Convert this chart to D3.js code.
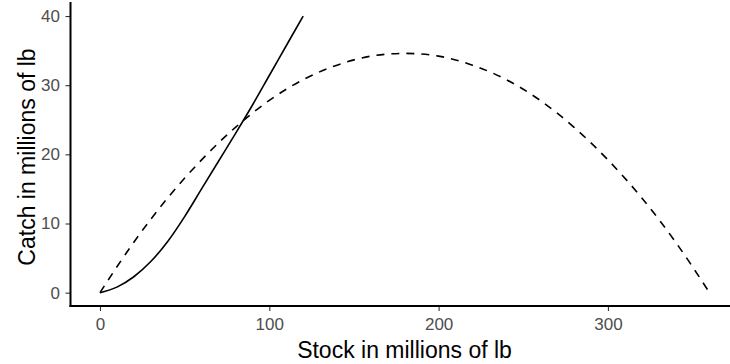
<!DOCTYPE html>
<html>
<head>
<meta charset="utf-8">
<script src="https://cdn.jsdelivr.net/npm/d3@7"></script>
<style>
  html, body { margin: 0; padding: 0; background: #fff; }
  svg { display: block; }
  text { font-family: "Liberation Sans", Arial, sans-serif; }
</style>
</head>
<body>
<svg id="chart" width="730" height="364"></svg>
<script>
// ---- data ----
const catchStock = [0, 10, 20, 30, 40, 50, 60, 70, 80, 90, 100, 110, 120];
const catchValues = [0, 0.8, 2.3, 4.5, 7.4, 11.0, 15.0, 19.0, 23.0, 27.1, 31.4, 35.7, 40.0];

const growthStock = [0, 20, 40, 60, 80, 100, 120, 140, 160, 180, 200, 220, 240, 260, 280, 300, 320, 340, 360];
const growthValues = [0, 7.3, 13.7, 19.2, 23.9, 27.8, 30.8, 32.9, 34.2, 34.6, 34.2, 32.9, 30.8, 27.8, 23.9, 19.2, 13.7, 7.3, 0];

const xTicks = [0, 100, 200, 300];
const yTicks = [0, 10, 20, 30, 40];
const xTitle = "Stock in millions of lb";
const yTitle = "Catch in millions of lb";

// ---- layout ----
const svg = d3.select("#chart");
const panel = { left: 70.5, top: 2, bottom: 306 };

const x = d3.scaleLinear().domain([-18, 378]).range([69.5, 740]);
const y = d3.scaleLinear().domain([-2, 42]).range([306.5, 2.2]);

// axes
const xAxis = svg.append("g")
  .attr("transform", `translate(0,${panel.bottom})`)
  .call(d3.axisBottom(x).tickValues(xTicks).tickSize(5).tickPadding(7).tickFormat(d3.format("d")));
const yAxis = svg.append("g")
  .attr("transform", `translate(${panel.left},0)`)
  .call(d3.axisLeft(y).tickValues(yTicks).tickSize(5).tickPadding(5.5).tickFormat(d3.format("d")));

[xAxis, yAxis].forEach(g => {
  g.select(".domain").remove();
  g.selectAll(".tick line").attr("stroke", "#333").attr("stroke-width", 1.1);
  g.selectAll(".tick text").attr("fill", "#4D4D4D").style("font-size", "17px")
    .style("font-family", "'Liberation Sans', Arial, sans-serif");
});

// axis lines
svg.append("line").attr("x1", panel.left).attr("x2", panel.left)
  .attr("y1", panel.top).attr("y2", panel.bottom + 1)
  .attr("stroke", "#000").attr("stroke-width", 2);
svg.append("line").attr("x1", panel.left - 1).attr("x2", 730)
  .attr("y1", panel.bottom).attr("y2", panel.bottom)
  .attr("stroke", "#000").attr("stroke-width", 2);

// curves
const line = d3.line().x(d => x(d[0])).y(d => y(d[1])).curve(d3.curveMonotoneX);

svg.append("path")
  .datum(growthStock.map((s, i) => [s, growthValues[i]]))
  .attr("d", line)
  .attr("fill", "none").attr("stroke", "#000").attr("stroke-width", 1.6)
  .attr("stroke-dasharray", "8,7");

svg.append("path")
  .datum(catchStock.map((s, i) => [s, catchValues[i]]))
  .attr("d", line)
  .attr("fill", "none").attr("stroke", "#000").attr("stroke-width", 1.6);

// titles
svg.append("text")
  .attr("x", 404.5).attr("y", 358)
  .attr("text-anchor", "middle")
  .style("font-size", "23px").attr("fill", "#000")
  .text(xTitle);

svg.append("text")
  .attr("transform", `translate(34.5,157) rotate(-90)`)
  .attr("text-anchor", "middle")
  .style("font-size", "23px").attr("fill", "#000")
  .text(yTitle);
</script>
</body>
</html>
